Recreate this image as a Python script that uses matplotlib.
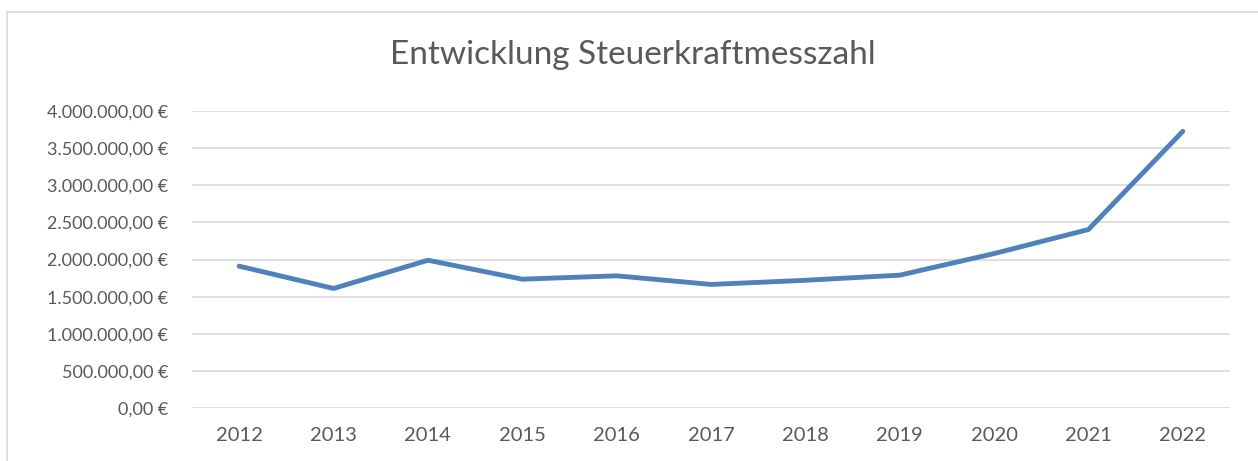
import matplotlib
matplotlib.use("Agg")
import matplotlib.pyplot as plt
from matplotlib.patches import Rectangle
from matplotlib.ticker import FuncFormatter, MultipleLocator

years = ["2012", "2013", "2014", "2015", "2016", "2017", "2018", "2019", "2020", "2021", "2022"]
values = [1910000, 1610000, 1990000, 1735000, 1780000, 1664000, 1720000, 1789000, 2080000, 2404000, 3726000]
title = "Entwicklung Steuerkraftmesszahl"

plt.rcParams['font.family'] = ['Lato', 'DejaVu Sans']
W, H = 1258, 461
fig = plt.figure(figsize=(W / 100, H / 100), dpi=100)
fig.patch.set_facecolor("white")

# chart frame (only left/top visible in the crop)
fig.add_artist(Rectangle((7 / W, -0.1), 1.2, (H - 12) / H + 0.1, transform=fig.transFigure,
                         fill=False, edgecolor="#D9D9D9", linewidth=1.2))

ax = fig.add_axes([192 / W, (H - 408) / H, (1230 - 192) / W, (408 - 111) / H])
x = list(range(len(years)))
ax.plot(x, values, color="#4F81BD", linewidth=3.5, solid_capstyle="round", solid_joinstyle="round", zorder=3)
ax.set_xlim(-0.5, len(years) - 0.5)
ax.set_ylim(0, 4000000)
ax.yaxis.set_major_locator(MultipleLocator(500000))

def fmt(v, pos):
    s = f"{v:,.2f}".replace(",", "X").replace(".", ",").replace("X", ".")
    return s + " €"

ax.yaxis.set_major_formatter(FuncFormatter(fmt))
ax.set_xticks(x)
ax.set_xticklabels(years)
ax.grid(axis="y", color="#D9D9D9", linewidth=1.2)
ax.set_axisbelow(True)
for s in ax.spines.values():
    s.set_visible(False)
ax.tick_params(axis="both", length=0, colors="#595959")
ax.tick_params(axis="y", pad=17, labelsize=13)
ax.tick_params(axis="x", pad=14, labelsize=14.5)

fig.text(633 / W, (H - 55) / H, title, ha="center", va="center", fontsize=24, color="#595959")

fig.savefig("out.png", dpi=100)
